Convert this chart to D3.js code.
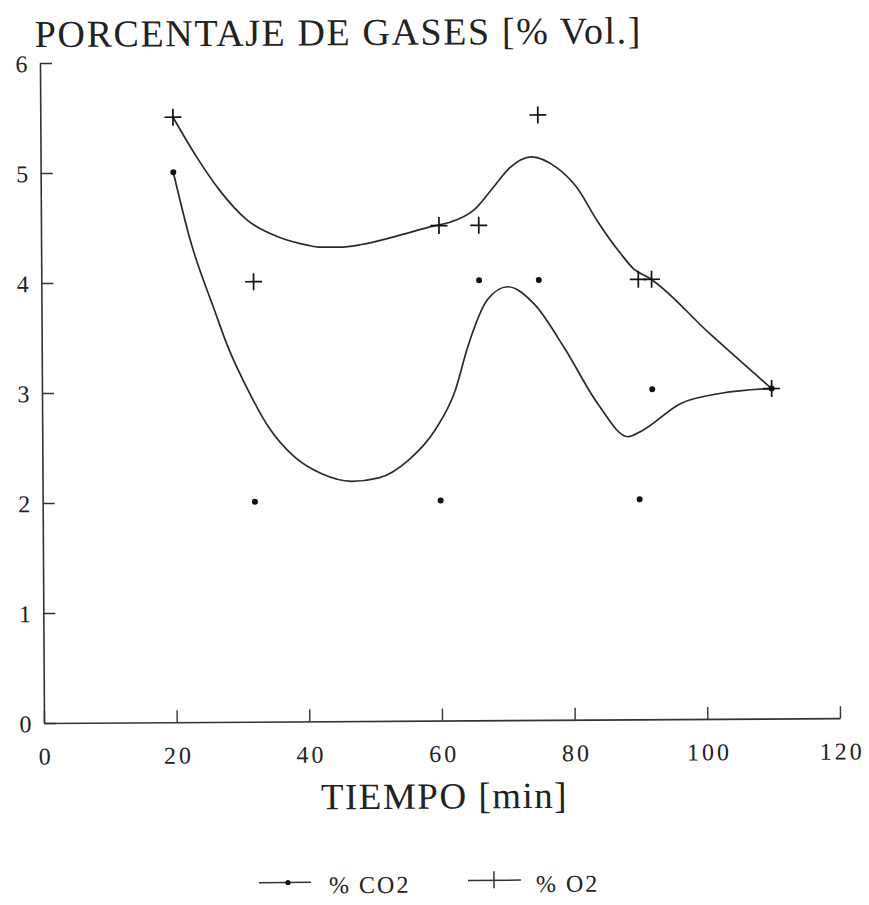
<!DOCTYPE html>
<html>
<head>
<meta charset="utf-8">
<script src="https://cdn.jsdelivr.net/npm/d3@7"></script>
<style>
  html, body { margin: 0; padding: 0; background: #fff; }
  svg { display: block; }
</style>
</head>
<body>
<svg id="chart" width="869" height="905"></svg>
<script>
// Measured gas composition over time
const tiempo = [20, 32, 60, 66, 75, 90, 92, 110];
const co2 = [5, 2, 2, 4, 4, 2, 3, 3];
const o2 = [5.5, 4, 4.5, 4.5, 5.5, 4, 4, 3];

// Smoothed trend curves (time, % vol)
const co2FitT = [20, 22.5, 26.1, 28, 31.1, 34.1, 38.1, 42.1, 46.6, 50.7, 55.2, 59.2, 62.3, 64.2, 67.2, 70.3, 74.3, 78.8, 83.8, 88.3, 90.3, 96.3, 102.4, 110];
const co2FitV = [5.0, 4.38, 3.74, 3.42, 3.01, 2.68, 2.40, 2.25, 2.18, 2.21, 2.37, 2.64, 3.00, 3.39, 3.82, 3.94, 3.78, 3.38, 2.87, 2.57, 2.62, 2.87, 2.96, 3.0];
const o2FitT = [20, 23.5, 27, 31.1, 36, 40.1, 42.1, 45, 48.1, 53.2, 59.4, 61.7, 65.3, 68.3, 70.7, 74, 77.8, 80.8, 83.8, 87.3, 89.4, 91.7, 100.6, 110];
const o2FitV = [5.5, 5.14, 4.83, 4.56, 4.40, 4.33, 4.31, 4.31, 4.33, 4.40, 4.50, 4.53, 4.64, 4.85, 5.02, 5.12, 5.02, 4.84, 4.54, 4.24, 4.09, 4.01, 3.51, 3.0];

const xTicks = [0, 20, 40, 60, 80, 100, 120];
const yTicks = [0, 1, 2, 3, 4, 5, 6];

const titleText = "PORCENTAJE DE GASES [% Vol.]";
const xLabel = "TIEMPO [min]";
const legendItems = ["% CO2", "% O2"];

const ink = "#222";
const serif = "'Liberation Serif', 'Times New Roman', serif";

const svg = d3.select("#chart");
// whole sheet sits at a slight angle
const root = svg.append("g").attr("transform", "rotate(-0.35, 44, 723)");

const x = d3.scaleLinear().domain([0, 120]).range([44, 840]);
const y = d3.scaleLinear().domain([0, 6]).range([723, 63]);

// Title
root.append("text")
  .attr("x", 39).attr("y", 47)
  .attr("font-family", serif).attr("font-size", 38)
  .attr("letter-spacing", 1.6)
  .attr("fill", ink)
  .text(titleText);

// Axes with inward ticks
const xAxis = root.append("g")
  .attr("transform", `translate(0,${y(0)})`)
  .call(d3.axisBottom(x).tickValues(xTicks).tickSize(-12).tickSizeOuter(0).tickPadding(33).tickFormat(d3.format("d")));
const yAxis = root.append("g")
  .attr("transform", `translate(${x(0)},0)`)
  .call(d3.axisLeft(y).tickValues(yTicks).tickSize(-12).tickSizeOuter(0).tickPadding(12).tickFormat(d3.format("d")));

[xAxis, yAxis].forEach(a => {
  a.select(".domain").attr("stroke", "#333").attr("stroke-width", 1.6);
  a.selectAll(".tick line").attr("stroke", "#333").attr("stroke-width", 1.4);
  a.selectAll(".tick text")
    .attr("font-family", serif).attr("font-size", 24)
    .attr("letter-spacing", 3)
    .attr("fill", ink);
});
xAxis.selectAll(".tick text").attr("dy", "0.35em").attr("dx", 1.5);
yAxis.selectAll(".tick text").attr("text-anchor", "middle").attr("x", -17).attr("dy", "0.36em");

// X axis label
root.append("text")
  .attr("x", 444).attr("y", 811)
  .attr("text-anchor", "middle")
  .attr("font-family", serif).attr("font-size", 37)
  .attr("letter-spacing", 1.5)
  .attr("fill", ink)
  .text(xLabel);

// Trend curves
const line = d3.line()
  .x(d => x(d[0])).y(d => y(d[1]))
  .curve(d3.curveMonotoneX);

root.append("path")
  .datum(co2FitT.map((t, i) => [t, co2FitV[i]]))
  .attr("d", line)
  .attr("fill", "none").attr("stroke", "#2a2a2a").attr("stroke-width", 1.7);

root.append("path")
  .datum(o2FitT.map((t, i) => [t, o2FitV[i]]))
  .attr("d", line)
  .attr("fill", "none").attr("stroke", "#2a2a2a").attr("stroke-width", 1.7);

// CO2 measurements: dots
root.append("g").selectAll("circle")
  .data(tiempo.map((t, i) => [t, co2[i]]))
  .join("circle")
  .attr("cx", d => x(d[0])).attr("cy", d => y(d[1]))
  .attr("r", 3).attr("fill", "#111");

// O2 measurements: crosses
const plus = (g, s) => {
  g.append("line").attr("x1", -s).attr("x2", s).attr("y1", 0).attr("y2", 0);
  g.append("line").attr("x1", 0).attr("x2", 0).attr("y1", -s).attr("y2", s);
};
root.append("g").selectAll("g")
  .data(tiempo.map((t, i) => [t, o2[i]]))
  .join("g")
  .attr("transform", d => `translate(${x(d[0])},${y(d[1])})`)
  .attr("stroke", "#111").attr("stroke-width", 1.7)
  .each(function() { plus(d3.select(this), 8.5); });

// Legend
const legend = root.append("g").attr("font-family", serif).attr("font-size", 24).attr("fill", ink);
const lg1 = legend.append("g").attr("transform", "translate(258,884)");
lg1.append("line").attr("x1", 0).attr("x2", 52).attr("stroke", "#333").attr("stroke-width", 1.5);
lg1.append("circle").attr("cx", 29).attr("cy", 0).attr("r", 2.6).attr("fill", "#111");
lg1.append("text").attr("x", 70).attr("y", 11).attr("letter-spacing", 2).text(legendItems[0]);

const lg2 = legend.append("g").attr("transform", "translate(467,883)");
lg2.append("line").attr("x1", 0).attr("x2", 53).attr("stroke", "#333").attr("stroke-width", 1.5);
lg2.append("line").attr("x1", 26).attr("x2", 26).attr("y1", -9).attr("y2", 8).attr("stroke", "#333").attr("stroke-width", 1.5);
lg2.append("text").attr("x", 68).attr("y", 12).attr("letter-spacing", 2).text(legendItems[1]);
</script>
</body>
</html>
